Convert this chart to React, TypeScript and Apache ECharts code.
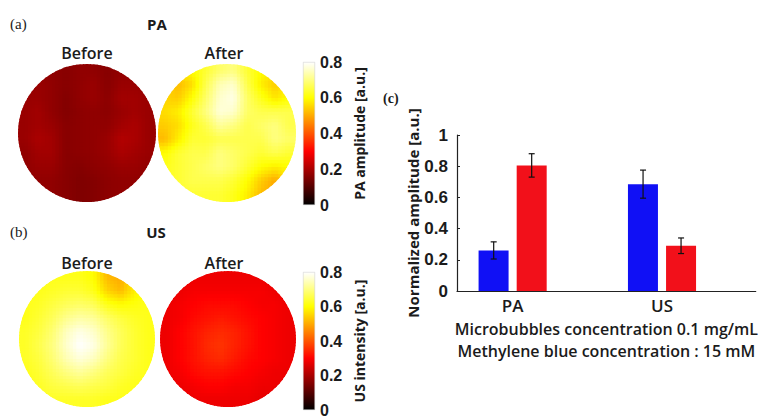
import { useEffect, useRef } from 'react';
import * as echarts from 'echarts';

// ---------- heat-map data (10 x 10 cells, rows top -> bottom) ----------
const paBefore = [
  [0.17, 0.17, 0.17, 0.16, 0.17, 0.17, 0.16, 0.17, 0.17, 0.17],
  [0.17, 0.18, 0.17, 0.16, 0.17, 0.18, 0.16, 0.18, 0.18, 0.17],
  [0.18, 0.18, 0.17, 0.155, 0.17, 0.18, 0.165, 0.19, 0.19, 0.18],
  [0.18, 0.19, 0.17, 0.155, 0.165, 0.17, 0.165, 0.18, 0.19, 0.18],
  [0.18, 0.19, 0.18, 0.16, 0.165, 0.17, 0.17, 0.19, 0.2, 0.18],
  [0.18, 0.2, 0.19, 0.16, 0.165, 0.17, 0.18, 0.21, 0.2, 0.18],
  [0.17, 0.19, 0.19, 0.16, 0.165, 0.17, 0.18, 0.2, 0.19, 0.18],
  [0.17, 0.18, 0.18, 0.16, 0.155, 0.165, 0.17, 0.18, 0.18, 0.17],
  [0.17, 0.17, 0.17, 0.16, 0.15, 0.155, 0.165, 0.17, 0.17, 0.17],
  [0.17, 0.17, 0.17, 0.16, 0.15, 0.155, 0.165, 0.17, 0.17, 0.17],
];
const paAfter = [
  [0.6, 0.58, 0.6, 0.64, 0.68, 0.7, 0.64, 0.6, 0.58, 0.6],
  [0.56, 0.52, 0.56, 0.66, 0.74, 0.76, 0.66, 0.58, 0.54, 0.58],
  [0.55, 0.54, 0.6, 0.68, 0.76, 0.78, 0.68, 0.62, 0.57, 0.6],
  [0.56, 0.58, 0.64, 0.7, 0.77, 0.76, 0.68, 0.66, 0.66, 0.66],
  [0.54, 0.56, 0.62, 0.66, 0.72, 0.7, 0.66, 0.68, 0.7, 0.66],
  [0.52, 0.58, 0.64, 0.64, 0.66, 0.66, 0.66, 0.66, 0.7, 0.68],
  [0.6, 0.64, 0.66, 0.66, 0.7, 0.68, 0.66, 0.64, 0.66, 0.64],
  [0.62, 0.64, 0.66, 0.68, 0.7, 0.68, 0.64, 0.6, 0.58, 0.6],
  [0.62, 0.64, 0.66, 0.66, 0.66, 0.64, 0.6, 0.54, 0.5, 0.56],
  [0.62, 0.64, 0.64, 0.64, 0.64, 0.62, 0.58, 0.52, 0.5, 0.56],
];
const usBefore = [
  [0.62, 0.62, 0.62, 0.62, 0.62, 0.6, 0.52, 0.5, 0.58, 0.62],
  [0.62, 0.62, 0.63, 0.64, 0.64, 0.62, 0.55, 0.52, 0.58, 0.62],
  [0.62, 0.63, 0.65, 0.67, 0.68, 0.67, 0.62, 0.6, 0.61, 0.62],
  [0.62, 0.64, 0.67, 0.71, 0.73, 0.72, 0.68, 0.65, 0.63, 0.62],
  [0.63, 0.65, 0.69, 0.75, 0.78, 0.76, 0.71, 0.67, 0.64, 0.62],
  [0.63, 0.66, 0.7, 0.76, 0.8, 0.78, 0.72, 0.67, 0.64, 0.62],
  [0.63, 0.65, 0.69, 0.74, 0.77, 0.75, 0.7, 0.66, 0.64, 0.62],
  [0.62, 0.64, 0.67, 0.7, 0.72, 0.7, 0.67, 0.65, 0.63, 0.62],
  [0.62, 0.63, 0.65, 0.66, 0.67, 0.66, 0.65, 0.63, 0.62, 0.62],
  [0.62, 0.62, 0.63, 0.63, 0.63, 0.63, 0.62, 0.62, 0.62, 0.62],
];
const usAfter = [
  [0.27, 0.27, 0.28, 0.28, 0.28, 0.28, 0.28, 0.28, 0.27, 0.27],
  [0.27, 0.28, 0.29, 0.29, 0.29, 0.29, 0.29, 0.29, 0.28, 0.27],
  [0.28, 0.29, 0.3, 0.31, 0.31, 0.31, 0.3, 0.29, 0.29, 0.28],
  [0.28, 0.29, 0.31, 0.32, 0.33, 0.32, 0.31, 0.3, 0.29, 0.28],
  [0.28, 0.3, 0.32, 0.34, 0.35, 0.34, 0.32, 0.3, 0.29, 0.28],
  [0.28, 0.3, 0.32, 0.35, 0.36, 0.34, 0.32, 0.3, 0.29, 0.28],
  [0.28, 0.3, 0.32, 0.34, 0.35, 0.33, 0.31, 0.3, 0.29, 0.28],
  [0.28, 0.29, 0.31, 0.32, 0.32, 0.31, 0.3, 0.29, 0.28, 0.28],
  [0.27, 0.28, 0.29, 0.3, 0.3, 0.29, 0.29, 0.28, 0.28, 0.27],
  [0.27, 0.27, 0.28, 0.28, 0.28, 0.28, 0.28, 0.27, 0.27, 0.27],
];

// ---------- bar chart data ----------
const barCategories = ['PA', 'US'];
const blueValues = [0.26, 0.685];
const redValues = [0.805, 0.29];
const blueErrors = [0.055, 0.09];
const redErrors = [0.075, 0.05];

// ---------- colour bars ----------
const colorbarMax = 0.8;
const colorbarStep = 0.2;

const GRID_N = 10;
const SUB = 4; // shading subdivisions per cell (interpolated shading, like MATLAB "shading interp")

function clamp01(x: number) {
  return Math.max(0, Math.min(1, x));
}
function hot(v: number) {
  const t = clamp01(v / colorbarMax);
  const r = Math.round(255 * clamp01(t / 0.375));
  const g = Math.round(255 * clamp01((t - 0.375) / 0.375));
  const b = Math.round(255 * clamp01((t - 0.75) / 0.25));
  return `rgb(${r},${g},${b})`;
}
function sample(m: number[][], gx: number, gy: number) {
  const fx = Math.max(0, Math.min(GRID_N - 1, gx - 0.5));
  const fy = Math.max(0, Math.min(GRID_N - 1, gy - 0.5));
  const x0 = Math.floor(fx);
  const y0 = Math.floor(fy);
  const x1 = Math.min(GRID_N - 1, x0 + 1);
  const y1 = Math.min(GRID_N - 1, y0 + 1);
  const tx = fx - x0;
  const ty = fy - y0;
  const a = m[y0][x0] * (1 - tx) + m[y0][x1] * tx;
  const b = m[y1][x0] * (1 - tx) + m[y1][x1] * tx;
  return a * (1 - ty) + b * ty;
}

const FONT = '"Open Sans", "DejaVu Sans", sans-serif';
const TXT = '#1b1b1b';

export default function App() {
  const ref = useRef<HTMLDivElement>(null);
  useEffect(() => {
    if (!ref.current) return;
    const chart = echarts.init(ref.current, null, { renderer: 'svg' });

    const circles = [
      { m: paBefore, cx: 87, cy: 133, r: 69 },
      { m: paAfter, cx: 227, cy: 133, r: 69 },
      { m: usBefore, cx: 87, cy: 339, r: 68 },
      { m: usAfter, cx: 228, cy: 339, r: 68 },
    ];

    const grids: any[] = [];
    const xAxes: any[] = [];
    const yAxes: any[] = [];
    const series: any[] = [];

    circles.forEach((c, i) => {
      grids.push({ left: c.cx - c.r, top: c.cy - c.r, width: 2 * c.r, height: 2 * c.r });
      xAxes.push({ gridIndex: i, type: 'value', min: 0, max: GRID_N, show: false });
      yAxes.push({ gridIndex: i, type: 'value', min: 0, max: GRID_N, inverse: true, show: false });
      const data: number[][] = [];
      c.m.forEach((row, ri) => row.forEach((v, ci) => data.push([ci, ri, v])));
      const m = c.m;
      series.push({
        type: 'custom',
        xAxisIndex: i,
        yAxisIndex: i,
        data,
        encode: { x: 0, y: 1 },
        renderItem: (params: any, api: any) => {
          const col = api.value(0);
          const row = api.value(1);
          const ctr = api.coord([GRID_N / 2, GRID_N / 2]);
          const edge = api.coord([GRID_N, GRID_N / 2]);
          const rad = Math.abs(edge[0] - ctr[0]);
          const children: any[] = [];
          for (let sy = 0; sy < SUB; sy++) {
            for (let sx = 0; sx < SUB; sx++) {
              const gx0 = col + sx / SUB;
              const gy0 = row + sy / SUB;
              const p0 = api.coord([gx0, gy0]);
              const p1 = api.coord([gx0 + 1 / SUB, gy0 + 1 / SUB]);
              const v = sample(m, gx0 + 0.5 / SUB, gy0 + 0.5 / SUB);
              children.push({
                type: 'rect',
                shape: {
                  x: Math.min(p0[0], p1[0]) - 0.5,
                  y: Math.min(p0[1], p1[1]) - 0.5,
                  width: Math.abs(p1[0] - p0[0]) + 1,
                  height: Math.abs(p1[1] - p0[1]) + 1,
                },
                style: { fill: hot(v) },
              });
            }
          }
          return {
            type: 'group',
            children,
            clipPath: { type: 'circle', shape: { cx: ctr[0], cy: ctr[1], r: rad } },
          };
        },
      });
    });

    // colour bars
    const cbars = [
      { top: 62, height: 143, name: 'PA amplitude [a.u.]' },
      { top: 272, height: 141, name: 'US intensity [a.u.]' },
    ];
    cbars.forEach((cb) => {
      const gi = grids.length;
      grids.push({ left: 303, top: cb.top, width: 12, height: cb.height });
      xAxes.push({ gridIndex: gi, type: 'category', data: [''], show: false });
      yAxes.push({
        gridIndex: gi,
        type: 'value',
        position: 'right',
        min: 0,
        max: colorbarMax,
        interval: colorbarStep,
        axisLine: { show: false },
        axisTick: { show: false },
        splitLine: { show: false },
        axisLabel: {
          margin: 5,
          color: TXT,
          fontSize: 16,
          fontWeight: 'bold',
          fontFamily: '"Liberation Sans", Arial, sans-serif',
        },
        name: cb.name,
        nameLocation: 'middle',
        nameRotate: 90,
        nameGap: 37,
        nameTextStyle: { color: TXT, fontSize: 14, fontWeight: 'bold', fontFamily: FONT },
      });
      series.push({
        type: 'bar',
        xAxisIndex: gi,
        yAxisIndex: gi,
        barWidth: '100%',
        silent: true,
        data: [colorbarMax],
        itemStyle: {
          color: new echarts.graphic.LinearGradient(0, 1, 0, 0, [
            { offset: 0, color: '#000000' },
            { offset: 0.375, color: '#ff0000' },
            { offset: 0.75, color: '#ffff00' },
            { offset: 1, color: '#ffffff' },
          ]),
          borderColor: '#c8c8c8',
          borderWidth: 0.5,
        },
      });
    });

    // bar chart
    const bi = grids.length;
    grids.push({ left: 457, top: 135, width: 300, height: 156 });
    xAxes.push({
      gridIndex: bi,
      type: 'category',
      data: barCategories,
      axisLine: { lineStyle: { color: '#222', width: 1.2 } },
      axisTick: { show: false },
      axisLabel: {
        margin: 6,
        formatter: (v: string) => `{a|${v}}`,
        rich: {
          a: { padding: [0, 38, 0, 0], fontSize: 17, fontWeight: 600, fontFamily: FONT, color: TXT },
        },
      },
      name: 'Microbubbles concentration 0.1 mg/mL\nMethylene blue concentration : 15 mM',
      nameLocation: 'middle',
      nameGap: 27,
      nameTextStyle: { color: TXT, fontSize: 16, fontWeight: 600, fontFamily: FONT, lineHeight: 22, align: 'center', verticalAlign: 'top' },
    });
    yAxes.push({
      gridIndex: bi,
      type: 'value',
      min: 0,
      max: 1,
      interval: 0.2,
      axisLine: { show: true, lineStyle: { color: '#222', width: 1.2 } },
      axisTick: { show: true, inside: true, length: 3, lineStyle: { color: '#222' } },
      splitLine: { show: false },
      axisLabel: {
        margin: 9,
        color: TXT,
        fontSize: 17,
        fontWeight: 'bold',
        fontFamily: '"Liberation Sans", Arial, sans-serif',
      },
      name: 'Normalized amplitude [a.u.]',
      nameLocation: 'middle',
      nameRotate: 90,
      nameGap: 26,
      nameTextStyle: { color: TXT, fontSize: 15, fontWeight: 'bold', fontFamily: FONT },
    });
    series.push(
      {
        type: 'bar',
        name: 'Blue',
        xAxisIndex: bi,
        yAxisIndex: bi,
        data: blueValues,
        barWidth: 30,
        barGap: '27%',
        itemStyle: { color: '#1010f5' },
      },
      {
        type: 'bar',
        name: 'Red',
        xAxisIndex: bi,
        yAxisIndex: bi,
        data: redValues,
        barWidth: 30,
        barGap: '27%',
        itemStyle: { color: '#f2101a' },
      },
      {
        type: 'bar',
        name: 'spacer',
        xAxisIndex: bi,
        yAxisIndex: bi,
        data: ['-', '-'],
        barWidth: 30,
        barGap: '27%',
        silent: true,
      },
      {
        type: 'custom',
        name: 'Error',
        xAxisIndex: bi,
        yAxisIndex: bi,
        z: 5,
        data: [
          ...blueValues.map((v, k) => [k, v - blueErrors[k], v + blueErrors[k], 0]),
          ...redValues.map((v, k) => [k, v - redErrors[k], v + redErrors[k], 1]),
        ],
        encode: { x: 0, y: [1, 2] },
        renderItem: (params: any, api: any) => {
          const k = api.value(0);
          const slot = api.value(3);
          const base = api.coord([k, 0]);
          const x = base[0] + (slot === 0 ? -38 : 0);
          const yLo = api.coord([k, api.value(1)])[1];
          const yHi = api.coord([k, api.value(2)])[1];
          const st = { stroke: '#111', lineWidth: 1.2 };
          return {
            type: 'group',
            children: [
              { type: 'line', shape: { x1: x, y1: yLo, x2: x, y2: yHi }, style: st },
              { type: 'line', shape: { x1: x - 3, y1: yHi, x2: x + 3, y2: yHi }, style: st },
              { type: 'line', shape: { x1: x - 3, y1: yLo, x2: x + 3, y2: yLo }, style: st },
            ],
          };
        },
      }
    );

    const serif = '"Liberation Serif", "DejaVu Serif", serif';
    const t = (text: string, x: number, y: number, size: number, weight: any, family: string, align = 'center') => ({
      type: 'text',
      x,
      y,
      style: { text, fill: TXT, fontSize: size, fontWeight: weight, fontFamily: family, align, verticalAlign: 'middle' },
    });

    chart.setOption({
      animation: false,
      backgroundColor: '#ffffff',
      grid: grids,
      xAxis: xAxes,
      yAxis: yAxes,
      series,
      graphic: [
        t('(a)', 10, 24, 15, 'normal', serif, 'left'),
        t('PA', 157, 24, 15, 'bold', FONT),
        t('Before', 87, 53, 16, 600, FONT),
        t('After', 224, 53, 16, 600, FONT),
        t('(b)', 10, 232, 15, 'normal', serif, 'left'),
        t('US', 156, 232, 15, 'bold', FONT),
        t('Before', 87, 263, 16, 600, FONT),
        t('After', 224, 263, 16, 600, FONT),
        t('(c)', 383, 98, 14, 'bold', serif, 'left'),
      ],
    });
    return () => chart.dispose();
  }, []);

  return (
    <div
      ref={ref}
      style={{ position: 'fixed', left: 0, top: 0, width: 760, height: 418, background: '#fff' }}
    />
  );
}
